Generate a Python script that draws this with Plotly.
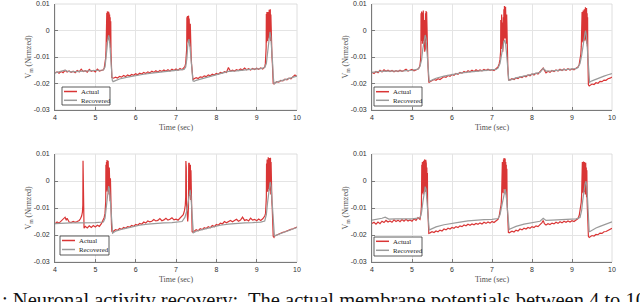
import plotly.graph_objects as go

# values are in units of 1e-3 (normalized membrane potential)
SCALE = 1e-3

X_TICKS = [4, 5, 6, 7, 8, 9, 10]
Y_TICKS = [0.01, 0.0, -0.01, -0.02, -0.03]
Y_TICK_LABELS = ["0.01", "0", "-0.01", "-0.02", "-0.03"]
X_TITLE = "Time (sec)"
Y_TITLE = "V<sub>m</sub> (Nrmzed)"
SERIES_NAMES = ["Actual", "Recovered"]
CAPTION = ": Neuronal activity recovery:  The actual membrane potentials between 4 to 10"

TL_ACTUAL = [
    (4.00,-16.0),(4.05,-15.6),(4.10,-16.1),(4.15,-15.5),(4.20,-15.9),(4.25,-15.0),(4.30,-15.7),(4.35,-15.3),
    (4.40,-15.8),(4.45,-15.4),(4.50,-15.9),(4.55,-15.1),(4.60,-15.6),(4.65,-14.6),(4.70,-15.5),(4.75,-15.2),
    (4.80,-15.7),(4.85,-14.7),(4.90,-15.4),(4.95,-15.1),(5.00,-15.6),(5.05,-14.6),(5.10,-15.3),(5.15,-15.0),(5.20,-14.8),
    (5.22,-14.2),(5.24,-12.8),(5.255,-10.5),(5.265,-7.5),(5.27,5.8),(5.277,-5.0),(5.284,6.6),(5.291,-4.2),(5.298,7.2),
    (5.305,-3.6),(5.312,6.8),(5.319,-3.4),(5.326,7.1),(5.333,-3.0),(5.340,6.4),(5.347,-4.0),(5.354,6.0),(5.361,-4.8),
    (5.368,5.0),(5.375,-6.5),(5.382,3.5),(5.389,-8.5),(5.395,-11.0),(5.40,-13.0),(5.405,-16.0),(5.41,-17.8),(5.45,-18.0),
    (5.50,-17.6),(5.55,-17.9),(5.60,-17.3),(5.65,-17.6),(5.70,-17.0),(5.75,-17.4),(5.80,-16.8),(5.85,-17.2),(5.90,-16.6),
    (5.95,-16.9),(6.00,-16.3),(6.05,-16.7),(6.10,-16.1),(6.15,-16.4),(6.20,-15.8),(6.25,-16.2),(6.30,-15.6),(6.35,-16.0),
    (6.40,-15.4),(6.45,-15.8),(6.50,-15.2),(6.55,-15.7),(6.60,-15.1),(6.65,-15.5),(6.70,-14.9),(6.75,-15.4),(6.80,-14.8),
    (6.85,-15.3),(6.90,-14.6),(6.95,-15.1),(7.00,-14.5),(7.05,-15.0),(7.10,-14.3),(7.15,-14.8),(7.20,-14.0),
    (7.22,-13.6),(7.24,-12.4),(7.255,-10.0),(7.265,-7.0),(7.27,5.0),(7.277,-4.5),(7.284,5.5),(7.291,-3.8),(7.298,4.8),
    (7.305,-3.5),(7.312,5.6),(7.319,-4.0),(7.326,4.5),(7.333,-5.0),(7.340,3.5),(7.347,-6.0),(7.354,2.5),(7.361,-7.5),
    (7.368,1.0),(7.375,-9.5),(7.385,-12.5),(7.395,-15.5),(7.405,-18.0),(7.42,-18.6),(7.45,-18.2),
    (7.50,-17.8),(7.55,-18.1),(7.60,-17.5),(7.65,-17.7),(7.70,-17.1),(7.75,-17.4),(7.80,-16.8),(7.85,-17.1),(7.90,-16.5),
    (7.95,-16.8),(8.00,-16.2),(8.05,-16.5),(8.10,-15.8),(8.15,-16.1),(8.20,-15.5),(8.25,-15.8),(8.30,-14.0),(8.35,-15.4),
    (8.40,-15.0),(8.45,-15.3),(8.50,-14.8),(8.55,-15.1),(8.60,-14.5),(8.65,-14.9),(8.70,-14.2),(8.75,-14.8),(8.80,-14.4),
    (8.85,-14.9),(8.90,-14.3),(8.95,-14.7),(9.00,-14.2),(9.05,-14.6),(9.10,-14.1),(9.15,-14.5),(9.20,-13.8),
    (9.215,-12.5),(9.225,-10.0),(9.235,-6.5),(9.24,6.2),(9.247,-4.5),(9.254,7.0),(9.261,-3.5),(9.268,6.0),(9.275,-4.0),
    (9.282,7.0),(9.289,-3.0),(9.296,6.3),(9.303,-2.5),(9.310,7.8),(9.317,-2.0),(9.324,6.5),(9.331,-3.5),(9.338,8.0),
    (9.345,-4.0),(9.352,6.0),(9.359,-6.0),(9.366,4.0),(9.373,-8.0),(9.38,-10.0),(9.39,-12.5),(9.40,-16.0),(9.41,-20.0),
    (9.43,-20.2),(9.45,-19.8),
    (9.50,-19.3),(9.55,-19.5),(9.60,-18.8),(9.65,-19.0),(9.70,-18.4),(9.75,-18.6),(9.80,-18.0),(9.85,-18.2),
    (9.90,-17.4),(9.95,-16.8),(10.00,-17.3),
]
TL_RECOV = [
    (4.00,-16.0),(4.10,-15.6),(4.20,-15.4),(4.25,-15.0),(4.30,-15.3),(4.40,-15.6),(4.60,-15.4),(4.80,-15.3),(5.00,-15.2),
    (5.20,-14.9),(5.24,-13.8),(5.27,-10.5),(5.29,-6.5),(5.31,-3.5),(5.33,-1.8),(5.35,-3.0),(5.37,-6.5),(5.39,-11.0),
    (5.405,-15.5),(5.42,-18.8),(5.44,-19.3),(5.50,-18.9),(5.60,-18.3),(5.80,-17.6),(6.00,-17.0),(6.20,-16.5),(6.40,-16.1),
    (6.60,-15.7),(6.80,-15.3),(7.00,-15.0),(7.20,-14.7),(7.24,-13.8),(7.27,-10.5),(7.29,-6.0),(7.31,-3.5),(7.32,-3.2),
    (7.34,-5.0),(7.36,-9.0),(7.38,-12.5),(7.40,-16.0),(7.42,-19.0),(7.45,-19.2),(7.50,-18.8),(7.70,-18.0),(7.90,-17.2),
    (8.10,-16.4),(8.30,-15.4),(8.50,-15.2),(8.70,-14.8),(8.90,-14.6),(9.10,-14.4),(9.20,-14.0),(9.24,-12.5),(9.27,-8.0),
    (9.30,-3.0),(9.32,-1.0),(9.33,-0.5),(9.35,-2.5),(9.37,-6.0),(9.39,-11.0),(9.41,-17.0),(9.43,-20.2),(9.46,-19.8),
    (9.50,-19.4),(9.60,-19.0),(9.70,-18.5),(9.80,-18.0),(9.90,-17.6),(10.00,-17.2),
]

TR_ACTUAL = [
    (4.00,-15.8),(4.05,-16.2),(4.10,-15.5),(4.15,-15.9),(4.20,-15.0),(4.25,-15.6),(4.30,-14.8),(4.35,-15.4),(4.40,-15.0),
    (4.45,-15.5),(4.50,-15.1),(4.55,-15.6),(4.60,-15.2),(4.65,-15.5),(4.70,-15.0),(4.75,-15.4),(4.80,-15.1),(4.85,-14.6),
    (4.90,-15.3),(4.95,-15.0),(5.00,-14.7),(5.05,-15.2),(5.10,-14.9),(5.15,-14.5),
    (5.18,-14.0),(5.20,-13.0),(5.215,-11.0),(5.222,-8.0),(5.226,6.5),(5.233,-4.0),(5.240,7.2),(5.247,-3.5),(5.254,5.5),
    (5.261,-5.0),(5.268,6.8),(5.275,-4.0),(5.282,7.5),(5.289,-3.0),(5.296,6.0),(5.303,-6.0),(5.310,4.0),(5.317,-8.0),
    (5.324,2.5),(5.331,-7.0),(5.338,6.5),(5.345,-4.0),(5.352,7.4),(5.359,-3.5),(5.366,7.0),(5.373,-5.0),(5.380,6.0),
    (5.387,-7.0),(5.393,-10.0),(5.40,-13.5),(5.41,-18.5),(5.42,-19.6),
    (5.45,-19.3),(5.50,-19.0),(5.55,-18.5),(5.60,-18.8),(5.65,-18.2),(5.70,-18.5),(5.75,-17.8),(5.80,-17.4),(5.85,-17.7),
    (5.90,-17.0),(5.95,-17.3),(6.00,-16.6),(6.05,-16.9),(6.10,-16.2),(6.15,-16.5),(6.20,-15.8),(6.25,-16.1),(6.30,-15.5),
    (6.35,-15.9),(6.40,-15.2),(6.45,-15.6),(6.50,-15.0),(6.55,-15.5),(6.60,-14.8),(6.65,-15.3),(6.70,-14.9),(6.75,-15.2),
    (6.80,-14.7),(6.85,-15.1),(6.90,-14.6),(6.95,-15.0),(7.00,-14.8),(7.05,-15.1),(7.10,-14.5),(7.15,-13.8),
    (7.18,-12.5),(7.20,-11.0),(7.215,-8.0),(7.22,4.0),(7.227,-6.0),(7.234,-5.0),(7.241,6.0),(7.248,-7.0),(7.255,-4.5),
    (7.262,3.0),(7.269,-8.0),(7.276,-6.0),(7.283,5.0),(7.290,-4.0),(7.297,8.0),(7.304,-3.0),(7.311,9.2),(7.318,-2.5),
    (7.325,8.5),(7.332,-3.0),(7.339,9.0),(7.346,-4.0),(7.353,7.5),(7.360,-5.0),(7.367,6.0),(7.374,-7.0),(7.380,4.0),
    (7.387,-10.0),(7.395,-13.5),(7.405,-16.5),(7.415,-18.8),(7.43,-18.6),
    (7.45,-18.6),(7.50,-18.2),(7.55,-18.5),(7.60,-17.9),(7.65,-18.1),(7.70,-17.5),(7.75,-17.8),(7.80,-17.2),(7.85,-17.5),
    (7.90,-16.8),(7.95,-17.1),(8.00,-16.4),(8.05,-16.8),(8.10,-16.1),(8.15,-16.4),(8.20,-15.6),(8.25,-14.8),(8.28,-14.2),
    (8.30,-14.8),(8.35,-16.0),(8.40,-15.4),(8.45,-15.8),(8.50,-15.1),(8.55,-15.5),(8.60,-14.9),(8.65,-15.3),(8.70,-14.6),
    (8.75,-15.1),(8.80,-14.5),(8.85,-15.0),(8.90,-14.4),(8.95,-14.9),(9.00,-14.5),(9.05,-14.8),(9.10,-14.2),(9.15,-13.8),
    (9.18,-12.8),(9.20,-11.5),(9.22,-9.0),(9.232,-6.0),(9.238,5.5),(9.245,-4.0),(9.252,7.0),(9.259,-3.0),(9.266,6.0),
    (9.273,-4.5),(9.280,7.5),(9.287,-3.0),(9.294,6.5),(9.301,-4.0),(9.308,8.0),(9.315,-3.5),(9.322,7.0),(9.329,-2.5),
    (9.336,8.8),(9.343,-3.0),(9.350,7.5),(9.357,-4.0),(9.364,8.5),(9.371,-5.0),(9.378,6.5),(9.385,-6.0),(9.390,5.0),
    (9.395,-9.0),(9.40,-13.0),(9.405,-17.5),(9.41,-20.5),(9.43,-20.9),
    (9.45,-20.6),(9.50,-20.2),(9.55,-20.4),(9.60,-19.7),(9.65,-19.9),(9.70,-19.2),(9.75,-19.3),(9.80,-18.7),(9.85,-18.8),
    (9.90,-18.2),(9.95,-18.0),(10.00,-17.6),
]
TR_RECOV = [
    (4.00,-15.8),(4.20,-15.4),(4.40,-15.3),(4.60,-15.3),(4.80,-15.2),(5.00,-15.0),(5.15,-14.6),(5.20,-13.5),(5.24,-11.0),
    (5.27,-7.0),(5.30,-3.5),(5.33,-1.7),(5.35,-3.0),(5.37,-7.0),(5.39,-11.0),(5.41,-16.0),(5.43,-19.2),(5.46,-19.0),
    (5.60,-18.0),(5.80,-17.2),(6.00,-16.6),(6.20,-16.1),(6.40,-15.7),(6.60,-15.4),(6.80,-15.2),(7.00,-15.0),(7.10,-14.7),
    (7.15,-14.2),(7.20,-12.5),(7.24,-9.0),(7.27,-6.0),(7.30,-4.0),(7.32,-3.6),(7.34,-5.0),(7.36,-8.0),(7.38,-12.0),
    (7.40,-16.0),(7.42,-18.8),(7.45,-18.7),(7.60,-17.9),(7.80,-17.2),(8.00,-16.6),(8.20,-15.8),(8.28,-14.3),(8.35,-15.3),
    (8.50,-15.2),(8.70,-14.9),(8.90,-14.7),(9.10,-14.4),(9.15,-14.0),(9.20,-12.5),(9.24,-9.5),(9.27,-6.0),(9.30,-3.0),
    (9.33,-0.5),(9.34,-0.1),(9.36,-2.0),(9.38,-6.0),(9.40,-12.0),(9.42,-18.0),(9.44,-19.5),(9.50,-19.0),(9.60,-18.3),
    (9.70,-17.7),(9.80,-17.2),(9.90,-16.7),(10.00,-16.3),
]

BL_ACTUAL = [
    (4.00,-15.8),(4.05,-15.2),(4.10,-15.6),(4.15,-14.8),(4.20,-14.2),(4.25,-13.4),(4.28,-14.5),(4.30,-13.8),(4.35,-15.2),
    (4.40,-15.4),(4.45,-15.0),(4.50,-15.3),(4.55,-15.0),(4.60,-14.6),(4.63,-14.0),(4.66,-13.0),(4.68,-11.5),(4.69,-9.0),
    (4.695,7.5),(4.70,-3.0),(4.705,7.0),(4.71,-8.0),(4.715,-15.0),(4.72,-17.5),(4.75,-16.8),(4.80,-17.4),(4.85,-16.6),
    (4.90,-17.2),(4.95,-16.5),(5.00,-17.0),(5.05,-16.4),(5.10,-16.8),(5.15,-15.8),(5.20,-14.5),
    (5.22,-13.5),(5.24,-12.0),(5.25,-10.0),(5.258,-7.5),(5.262,6.0),(5.269,-4.0),(5.276,7.0),(5.283,-3.5),(5.290,7.8),
    (5.297,-3.0),(5.304,6.5),(5.311,-4.0),(5.318,7.5),(5.325,-3.5),(5.332,6.0),(5.339,-5.0),(5.346,5.0),(5.353,-6.0),
    (5.360,3.5),(5.367,-7.5),(5.374,1.0),(5.381,-9.5),(5.388,-11.5),(5.395,-13.5),(5.40,-16.0),(5.41,-18.6),(5.43,-19.1),
    (5.45,-18.6),(5.50,-18.0),(5.55,-18.3),(5.60,-17.6),(5.65,-17.9),(5.70,-17.2),(5.75,-17.5),(5.80,-16.9),(5.85,-17.1),
    (5.90,-16.5),(5.95,-16.8),(6.00,-16.1),(6.05,-16.4),(6.10,-15.7),(6.15,-16.0),(6.20,-15.2),(6.25,-15.6),(6.30,-14.8),
    (6.35,-15.1),(6.40,-14.9),(6.45,-14.3),(6.50,-14.8),(6.55,-14.6),(6.60,-13.9),(6.65,-14.7),(6.70,-14.4),(6.75,-13.8),
    (6.80,-14.5),(6.85,-14.2),(6.90,-13.6),(6.95,-14.4),(7.00,-14.1),(7.05,-14.5),(7.10,-13.8),(7.15,-13.2),
    (7.18,-12.5),(7.21,-11.0),(7.23,-9.0),(7.24,-6.0),(7.245,7.4),(7.25,-4.0),(7.255,5.0),(7.26,-8.0),(7.27,-12.0),
    (7.28,-14.0),(7.29,-15.0),(7.30,-13.0),(7.31,-9.0),(7.315,6.5),(7.322,-5.0),(7.329,6.7),(7.336,-5.5),(7.343,5.5),
    (7.350,-6.0),(7.357,6.0),(7.364,-7.0),(7.371,4.0),(7.378,-9.5),(7.385,-12.0),(7.39,-14.0),(7.40,-18.8),(7.42,-19.0),
    (7.45,-18.5),(7.50,-18.0),(7.55,-18.4),(7.60,-17.7),(7.65,-18.0),(7.70,-17.3),(7.75,-17.6),(7.80,-16.9),(7.85,-17.3),
    (7.90,-16.5),(7.95,-16.9),(8.00,-16.1),(8.05,-16.4),(8.10,-15.6),(8.15,-15.9),(8.20,-15.0),(8.25,-15.5),(8.30,-15.2),
    (8.35,-14.6),(8.40,-15.1),(8.45,-14.8),(8.50,-14.2),(8.55,-14.9),(8.60,-14.5),(8.65,-13.4),(8.70,-14.6),(8.75,-14.3),
    (8.80,-14.8),(8.85,-13.8),(8.90,-14.5),(8.95,-14.2),(9.00,-14.7),(9.05,-14.1),(9.10,-14.6),(9.15,-14.0),(9.20,-13.0),
    (9.22,-12.0),(9.235,-9.5),(9.24,-6.0),(9.245,6.5),(9.252,-4.0),(9.259,8.0),(9.266,-3.0),(9.273,7.0),(9.280,-4.0),
    (9.287,8.8),(9.294,-3.0),(9.301,8.0),(9.308,-2.5),(9.315,8.5),(9.322,-3.5),(9.329,7.5),(9.336,-4.0),(9.343,8.6),
    (9.350,-5.0),(9.357,7.0),(9.364,-6.0),(9.371,5.5),(9.378,-8.0),(9.385,-9.5),(9.39,-11.0),(9.395,-13.0),(9.40,-17.0),
    (9.41,-20.5),(9.43,-20.9),
    (9.45,-20.3),(9.50,-20.0),(9.55,-19.6),(9.60,-19.3),(9.65,-19.0),(9.70,-18.8),(9.75,-18.4),(9.80,-18.2),(9.85,-17.9),
    (9.90,-17.7),(9.95,-17.3),(10.00,-17.1),
]
BL_RECOV = [
    (4.00,-15.8),(4.20,-15.6),(4.40,-15.5),(4.60,-15.5),(4.80,-15.5),(5.00,-15.4),(5.20,-15.2),(5.24,-13.8),(5.27,-10.0),
    (5.30,-5.0),(5.33,-1.9),(5.35,-3.0),(5.37,-7.0),(5.39,-12.0),(5.41,-17.0),(5.43,-19.3),(5.46,-19.0),(5.50,-18.6),
    (5.70,-17.7),(5.90,-17.0),(6.10,-16.4),(6.30,-16.0),(6.50,-15.7),(6.70,-15.5),(6.90,-15.4),(7.10,-15.2),(7.15,-15.0),
    (7.22,-13.5),(7.27,-11.0),(7.30,-8.0),(7.33,-4.5),(7.35,-3.3),(7.37,-5.5),(7.39,-11.0),(7.41,-17.5),(7.43,-19.2),
    (7.46,-19.0),(7.50,-18.6),(7.70,-17.8),(7.90,-17.0),(8.10,-16.4),(8.30,-16.0),(8.50,-15.7),(8.70,-15.5),(8.90,-15.4),
    (9.10,-15.2),(9.20,-14.8),(9.24,-12.5),(9.27,-8.0),(9.30,-3.5),(9.33,-0.8),(9.34,-0.4),(9.36,-2.5),(9.38,-7.0),
    (9.40,-13.0),(9.42,-19.0),(9.44,-20.4),(9.50,-20.0),(9.60,-19.5),(9.70,-19.0),(9.80,-18.4),(9.90,-17.8),(10.00,-17.2),
]

BR_ACTUAL = [
    (4.00,-15.7),(4.05,-15.3),(4.10,-16.0),(4.15,-15.2),(4.20,-15.8),(4.25,-14.9),(4.30,-15.4),(4.35,-14.6),(4.40,-15.2),
    (4.45,-14.8),(4.50,-15.3),(4.55,-14.4),(4.60,-15.0),(4.65,-14.5),(4.70,-15.1),(4.75,-14.3),(4.80,-14.9),(4.85,-14.2),
    (4.90,-14.8),(4.95,-14.4),(5.00,-14.9),(5.05,-14.0),(5.10,-14.6),(5.15,-13.6),(5.20,-14.2),
    (5.22,-12.5),(5.235,-9.5),(5.24,-6.0),(5.245,6.0),(5.252,-4.5),(5.259,7.0),(5.266,-3.5),(5.273,5.5),(5.280,-5.0),
    (5.287,7.5),(5.294,-3.0),(5.301,6.5),(5.308,-4.0),(5.315,8.0),(5.322,-3.0),(5.329,7.0),(5.336,-4.0),(5.343,7.8),
    (5.350,-3.5),(5.357,6.5),(5.364,-5.0),(5.371,5.0),(5.378,-6.5),(5.385,3.0),(5.39,-9.0),(5.395,-12.0),(5.40,-15.5),
    (5.41,-18.5),(5.42,-19.4),
    (5.45,-19.2),(5.50,-18.8),(5.55,-19.1),(5.60,-18.5),(5.65,-18.8),(5.70,-18.2),(5.75,-18.5),(5.80,-17.8),(5.85,-18.1),
    (5.90,-17.5),(5.95,-17.8),(6.00,-17.2),(6.05,-17.5),(6.10,-16.9),(6.15,-17.2),(6.20,-16.6),(6.25,-16.9),(6.30,-16.3),
    (6.35,-16.6),(6.40,-16.0),(6.45,-16.4),(6.50,-15.9),(6.55,-16.2),(6.60,-15.7),(6.65,-16.0),(6.70,-15.5),(6.75,-15.9),
    (6.80,-15.3),(6.85,-15.7),(6.90,-15.2),(6.95,-15.6),(7.00,-15.0),(7.05,-15.4),(7.10,-14.8),(7.15,-14.2),
    (7.18,-13.0),(7.21,-11.0),(7.23,-8.5),(7.24,-5.5),(7.245,5.0),(7.252,-4.5),(7.259,7.0),(7.266,-3.5),(7.273,6.0),
    (7.280,-4.5),(7.287,8.0),(7.294,-3.0),(7.301,8.5),(7.308,-2.5),(7.315,7.5),(7.322,-3.5),(7.329,8.3),(7.336,-4.0),
    (7.343,7.0),(7.350,-5.0),(7.357,6.0),(7.364,-6.5),(7.371,4.5),(7.378,-8.0),(7.385,-10.5),(7.39,-13.0),(7.40,-17.0),
    (7.41,-19.0),(7.43,-19.2),
    (7.45,-19.0),(7.50,-18.6),(7.55,-18.9),(7.60,-18.2),(7.65,-18.5),(7.70,-17.8),(7.75,-18.1),(7.80,-17.5),(7.85,-17.8),
    (7.90,-17.2),(7.95,-17.5),(8.00,-16.9),(8.05,-17.2),(8.10,-16.6),(8.15,-16.9),(8.20,-16.3),(8.25,-15.4),(8.28,-14.6),
    (8.31,-15.8),(8.35,-16.3),(8.40,-15.8),(8.45,-16.1),(8.50,-15.6),(8.55,-15.9),(8.60,-15.3),(8.65,-15.7),(8.70,-15.1),
    (8.75,-15.5),(8.80,-14.9),(8.85,-15.3),(8.90,-14.8),(8.95,-15.2),(9.00,-14.7),(9.05,-15.0),(9.10,-14.5),(9.15,-13.9),
    (9.18,-12.8),(9.21,-10.5),(9.23,-8.0),(9.24,-5.5),(9.245,5.5),(9.252,-4.0),(9.259,7.0),(9.266,-3.5),(9.273,6.0),
    (9.280,-4.5),(9.287,7.2),(9.294,-3.0),(9.301,6.5),(9.308,-4.0),(9.315,7.0),(9.322,-3.5),(9.329,5.5),(9.336,-5.0),
    (9.343,6.8),(9.350,-4.5),(9.357,5.0),(9.364,-6.0),(9.371,4.0),(9.378,-7.5),(9.385,-10.0),(9.39,-12.5),(9.40,-17.0),
    (9.41,-20.5),(9.43,-20.9),
    (9.45,-20.6),(9.50,-20.2),(9.55,-20.4),(9.60,-19.8),(9.65,-19.9),(9.70,-19.3),(9.75,-19.4),(9.80,-18.8),(9.85,-18.7),
    (9.90,-18.2),(9.95,-17.9),(10.00,-17.5),
]
BR_RECOV = [
    (4.00,-14.5),(4.15,-14.2),(4.25,-13.8),(4.33,-13.4),(4.42,-14.1),(4.60,-14.0),(4.80,-14.0),(5.00,-14.0),(5.20,-13.6),
    (5.24,-11.5),(5.27,-8.0),(5.30,-4.0),(5.33,-2.1),(5.35,-3.0),(5.37,-6.5),(5.39,-10.5),(5.41,-15.0),(5.43,-18.1),
    (5.45,-18.0),(5.60,-17.0),(5.80,-16.2),(6.00,-15.6),(6.20,-15.2),(6.40,-14.8),(6.60,-14.5),(6.80,-14.3),(7.00,-14.2),
    (7.15,-13.9),(7.20,-12.5),(7.25,-9.0),(7.29,-5.0),(7.32,-3.2),(7.33,-3.0),(7.35,-4.5),(7.37,-8.0),(7.39,-12.0),
    (7.41,-16.0),(7.43,-18.0),(7.45,-17.8),(7.60,-16.8),(7.80,-16.0),(8.00,-15.4),(8.20,-14.9),(8.28,-13.8),(8.35,-14.6),
    (8.50,-14.5),(8.70,-14.4),(8.90,-14.3),(9.10,-14.0),(9.20,-13.5),(9.24,-11.0),(9.27,-7.0),(9.30,-3.5),(9.33,-0.8),
    (9.35,-0.1),(9.37,-2.0),(9.39,-7.0),(9.41,-13.0),(9.43,-18.8),(9.45,-18.7),(9.50,-18.2),(9.60,-17.4),(9.70,-16.8),
    (9.80,-16.2),(9.90,-15.6),(10.00,-15.1),
]

# ---------------- layout / style ----------------
W, H = 640, 302
RED = "#d93535"
GRAY = "#9a9a9a"
SERIF = "Liberation Serif"
SANS = "Liberation Sans"

# panel plot areas in pixels: (left, right, top, bottom)
PANELS = [
    (TL_ACTUAL, TL_RECOV, (55, 297, 4, 110)),
    (TR_ACTUAL, TR_RECOV, (372, 612, 4, 110)),
    (BL_ACTUAL, BL_RECOV, (55, 297, 154, 262)),
    (BR_ACTUAL, BR_RECOV, (372, 612, 154, 262)),
]
# legend boxes in pixels: (left, right, top, bottom, row1_y, row2_y)
LEGENDS = [
    (62, 110, 87, 105, 91.5, 100.3),
    (374, 422, 87, 106, 91.7, 100.3),
    (60, 109, 236, 255, 240.5, 249.5),
    (374, 422, 237, 256, 241.3, 250.3),
]

fig = go.Figure()
layout = dict(
    width=W, height=H, margin=dict(l=0, r=0, t=0, b=0, autoexpand=False),
    paper_bgcolor="white", plot_bgcolor="white", showlegend=False,
)
shapes, annotations = [], []

def px_x(p):
    return p / W

def px_y(p):
    return 1 - p / H

for i, (act, rec, (l, r, t, b)) in enumerate(PANELS, start=1):
    sfx = "" if i == 1 else str(i)
    xa, ya = "x" + sfx, "y" + sfx
    fig.add_trace(go.Scatter(x=[p[0] for p in act], y=[p[1] * SCALE for p in act],
                             mode="lines", name=SERIES_NAMES[0], xaxis=xa, yaxis=ya,
                             line=dict(color=RED, width=1.2)))
    fig.add_trace(go.Scatter(x=[p[0] for p in rec], y=[p[1] * SCALE for p in rec],
                             mode="lines", name=SERIES_NAMES[1], xaxis=xa, yaxis=ya,
                             line=dict(color=GRAY, width=1.2)))
    common = dict(showgrid=True, gridcolor="#e4e4e4", gridwidth=0.6, zeroline=False,
                  showline=True, linecolor="#7a7a7a", linewidth=0.8, mirror=False,
                  ticks="inside", ticklen=3, tickwidth=0.7, tickcolor="#7a7a7a",
                  automargin=False,
                  tickfont=dict(family=SANS, size=7, color="#303030"))
    layout["xaxis" + sfx] = dict(common, domain=[px_x(l), px_x(r)], anchor=ya, range=[4, 10],
                                  tickvals=X_TICKS, ticklabelstandoff=1,
                                  title=dict(text=X_TITLE, standoff=4,
                                             font=dict(family=SERIF, size=8, color="#505050")))
    layout["yaxis" + sfx] = dict(common, domain=[px_y(b), px_y(t)], anchor=xa, range=[-0.03, 0.01],
                                  tickvals=Y_TICKS, ticktext=Y_TICK_LABELS, ticklabelstandoff=3,
                                  title=dict(text=Y_TITLE, standoff=0,
                                             font=dict(family=SERIF, size=8, color="#505050")))
    # light box frame (top/right)
    shapes.append(dict(type="rect", xref="paper", yref="paper", x0=px_x(l), x1=px_x(r),
                       y0=px_y(b), y1=px_y(t), line=dict(color="#d6d6d6", width=0.8), layer="below"))

for (ll, lr, lt, lb, r1, r2) in LEGENDS:
    shapes.append(dict(type="rect", xref="paper", yref="paper", x0=px_x(ll), x1=px_x(lr),
                       y0=px_y(lb), y1=px_y(lt), fillcolor="white",
                       line=dict(color="#333333", width=0.8), layer="above"))
    for ry, col, name in ((r1, RED, SERIES_NAMES[0]), (r2, GRAY, SERIES_NAMES[1])):
        shapes.append(dict(type="line", xref="paper", yref="paper", x0=px_x(ll + 2), x1=px_x(ll + 15),
                           y0=px_y(ry), y1=px_y(ry), line=dict(color=col, width=1.5), layer="above"))
        annotations.append(dict(text=name, xref="paper", yref="paper", x=px_x(ll + 17), y=px_y(ry),
                                xanchor="left", yanchor="middle", showarrow=False,
                                font=dict(family=SERIF, size=6.8, color="#222222")))

annotations.append(dict(text=CAPTION, xref="paper", yref="paper", x=0, y=px_y(300),
                        xanchor="left", yanchor="middle", showarrow=False,
                        font=dict(family=SERIF, size=20.5, color="#111111")))

layout["shapes"] = shapes
layout["annotations"] = annotations
fig.update_layout(**layout)
fig.write_html("out.html", config={"displayModeBar": False},
               post_script="document.body.style.margin='0';document.body.style.overflow='hidden';")
